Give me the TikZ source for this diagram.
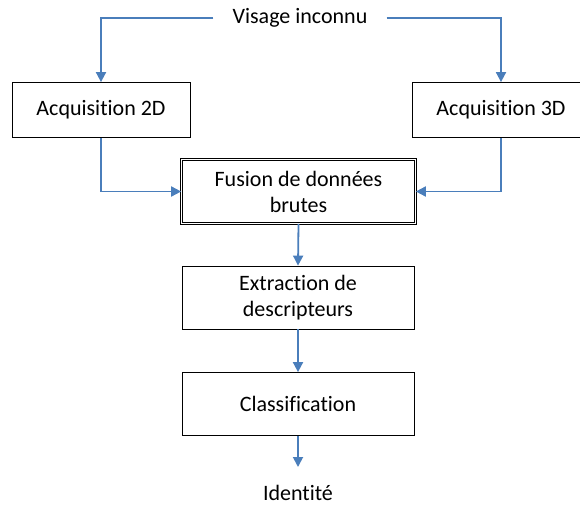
\documentclass[tikz,border=0pt]{standalone}
\usepackage{fontspec}
\setmainfont[Ligatures=NoCommon]{Carlito}
\usetikzlibrary{arrows.meta}
\definecolor{linkblue}{RGB}{74,126,187}
\tikzset{
  box/.style={draw=black, line width=0.8pt, align=center, inner sep=0pt, font=\fontsize{22}{26}\selectfont},
  lbl/.style={align=center, inner sep=0pt, font=\fontsize{22}{26}\selectfont},
  conn/.style={draw=linkblue, line width=1.8pt, -{Triangle[length=10pt,width=10pt]}},
}
\begin{document}
\begin{tikzpicture}[x=1pt,y=-1pt]
\useasboundingbox (0,0) rectangle (580,505);
\node[lbl, inner xsep=19pt] (vis) at (300,18) {Visage inconnu};
\node[box, minimum width=178pt, minimum height=55pt] (a2) at (101,110) {Acquisition 2D};
\node[box, minimum width=178pt, minimum height=55pt] (a3) at (501,110) {Acquisition 3D};
\node[box, double, double distance=1.6pt, line width=0.7pt, minimum width=234pt, minimum height=64pt] (fus) at (298.5,191.5) {Fusion de données\\brutes};
\node[box, minimum width=232pt, minimum height=63pt] (ext) at (298,297.5) {Extraction de\\descripteurs};
\node[box, minimum width=232pt, minimum height=63pt] (cls) at (298,404) {Classification};
\node[lbl] (idt) at (298,493) {Identité};
\coordinate (idtop) at (298,467);
\draw[conn] (vis.west) -| (a2.north);
\draw[conn] (vis.east) -| (a3.north);
\draw[conn] (a2.south) |- (fus.west);
\draw[conn] (a3.south) |- (fus.east);
\draw[conn] (fus.south) -- (ext.north);
\draw[conn] (ext.south) -- (cls.north);
\draw[conn] (cls.south) -- (idtop);
\end{tikzpicture}
\end{document}
